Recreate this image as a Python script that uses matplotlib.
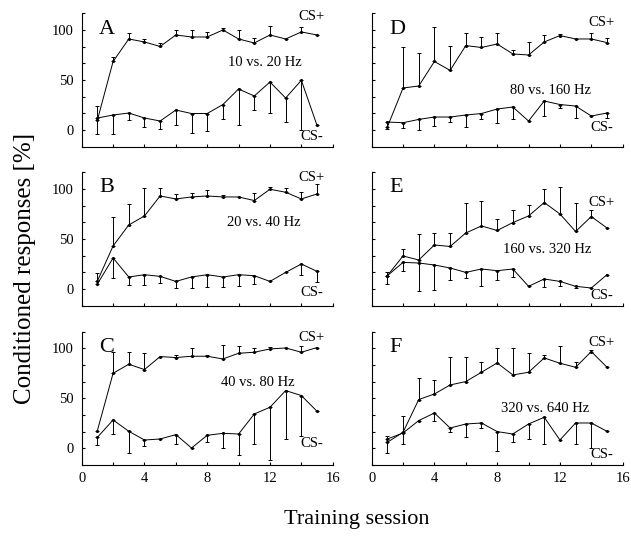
import numpy as np
import matplotlib
matplotlib.use("Agg")
import matplotlib.pyplot as plt

plt.rcParams['font.family'] = ['Liberation Serif', 'DejaVu Serif']

sessions = np.arange(1, 16)
nan = np.nan

# CS+ means and tips of upward error bars, CS- means and tips of downward error bars
A_plus = [10, 68.5, 91, 88, 83.5, 95, 93, 93, 100, 91, 87, 95, 91, 98, 95]
A_plus_top = [24, 73, 97, 91, 87, 100, 100, 98, 101.7, 100, 92, 104, nan, 103, nan]
A_minus = [12, 15, 17, 12, 9, 20, 16.5, 16.5, 25.5, 41, 34, 48, 32, 49.7, 4.6]
A_minus_bot = [-4, -4, 10.5, 3, 0.7, 4.6, -2.6, -1, 10.6, 4.6, 20, 17, 8, 0, nan]

B_plus = [8, 43, 64, 73, 93, 90, 92, 93, 92, 92, 88.4, 99.7, 96.7, 90, 95]
B_plus_top = [16, 72, 85, 100.7, 100.7, 95, 95.7, 99, 94, nan, 96.3, 101.7, 100.7, 97, 104.7]
B_minus = [5, 31, 12, 14.3, 12.6, 7.6, 12, 14.3, 12, 14.3, 13.3, 7.6, 16.6, 25, 17.6]
B_minus_bot = [nan, 11, 4.3, 4.3, 6, 1, 1, 2, 2, 2.7, 5.3, nan, nan, 14.3, 6.6]

C_plus = [17.7, 75, 84, 78.7, 91.7, 90.7, 92, 92, 89.3, 95, 96, 99.3, 100.3, 96, 100.7]
C_plus_top = [nan, 96, 96.7, 95.3, nan, 93.7, 100, 93.3, 103.3, 102, 100, 101, nan, 102.7, nan]
C_minus = [11, 28.3, 17, 8.3, 9.3, 13.7, 0.3, 13, 15, 14.3, 34.3, 41, 57.7, 52.7, 37]
C_minus_bot = [3.3, 14.3, -4.7, 2.7, nan, 4.3, nan, 6, 0.3, -6.3, 4.3, -11.3, 9.3, 12.7, nan]

D_plus = [3, 42, 44, 68.5, 59.6, 84.4, 82.5, 86, 76, 75, 88, 94.4, 91, 91, 87.4]
D_plus_top = [nan, 83, 77, 103, 84, 96.7, 92.7, 97, 79.5, 88, 95, 96, nan, 97, 91.7]
D_minus = [8, 7.3, 10.6, 13, 13, 15, 16.5, 21, 23, 9, 29, 25.5, 24, 14, 17]
D_minus_bot = [1.3, 2.3, 0, 4, 8, 3.3, 11, 7.3, 10.6, nan, 14, 22, 12, nan, 12]

E_plus = [13.3, 33, 29, 44, 42.5, 56, 63, 58.5, 66.4, 73, 86.4, 75, 57.5, 72.4, 61]
E_plus_top = [16.6, 40, 55, 56, 56, 86, 88, 70, 79, 84, 99.7, 102, 86, 79, nan]
E_minus = [13.3, 26.6, 26, 24, 21, 16.6, 20, 18.3, 20, 2.7, 10, 7.6, 2.7, 1, 14.3]
E_minus_bot = [5.3, 17.6, -2.3, -1.3, 9.3, 11, 2.7, 9.3, 12, nan, 2, 2.7, 1, nan, nan]

F_plus = [6, 16, 48.7, 54.3, 63.3, 66.7, 76, 85.3, 73.3, 76, 90.3, 85, 81, 96.7, 81]
F_plus_top = [12.7, 32.7, 70, 68.7, 91, 91, 86.7, 100, 100, 95.3, 93.3, 102.7, 86, 98.7, nan]
F_minus = [9.3, 15.3, 27.7, 35.3, 20.3, 24.3, 25.3, 16.7, 14.3, 24.3, 31, 8.3, 25.3, 25.3, 17]
F_minus_bot = [-4.7, 4.3, nan, 27.7, 16, 11, 20.3, -2.3, 6.7, 9.3, 4.3, nan, 4.3, 0, nan]

panels = [
    ("A", "10 vs. 20 Hz", A_plus, A_plus_top, A_minus, A_minus_bot),
    ("B", "20 vs. 40 Hz", B_plus, B_plus_top, B_minus, B_minus_bot),
    ("C", "40 vs. 80 Hz", C_plus, C_plus_top, C_minus, C_minus_bot),
    ("D", "80 vs. 160 Hz", D_plus, D_plus_top, D_minus, D_minus_bot),
    ("E", "160 vs. 320 Hz", E_plus, E_plus_top, E_minus, E_minus_bot),
    ("F", "320 vs. 640 Hz", F_plus, F_plus_top, F_minus, F_minus_bot),
]

# label positions (data coords): freq text, CS+ y, CS- y
freq_pos = [(11.7, 67), (11.6, 66), (11.2, 66), (11.4, 40), (11.2, 39), (11.05, 40)]
csp_y = [113, 111, 111, 107, 86, 106]
csm_y = [-6, -3.4, 5, 2.7, -6.7, -5.7]

fig = plt.figure(figsize=(6.31, 5.36), dpi=100)

lefts = [0.1295, 0.589]
bottoms = [0.7263, 0.4297, 0.1325]
w, h = 0.3978, 0.2489

for i, (letter, freq, p, ptop, m, mbot) in enumerate(panels):
    col, row = i // 3, i % 3
    ax = fig.add_axes([lefts[col], bottoms[row], w, h])
    p = np.array(p, float)
    m = np.array(m, float)
    up = np.array(ptop, float) - p
    dn = m - np.array(mbot, float)
    ax.errorbar(sessions, p, yerr=[np.zeros(15), up], color='black', lw=0.7,
                elinewidth=0.7, capsize=1.5, capthick=0.7, marker='.', ms=2.5)
    ax.errorbar(sessions, m, yerr=[dn, np.zeros(15)], color='black', lw=0.7,
                elinewidth=0.7, capsize=1.5, capthick=0.7, marker='.', ms=2.5)

    ax.set_xlim(0, 16)
    ax.set_ylim(-50 / 3, 350 / 3)
    ax.spines['top'].set_visible(False)
    ax.spines['right'].set_visible(False)
    ax.spines['left'].set_linewidth(0.8)
    ax.spines['bottom'].set_linewidth(0.8)
    ax.set_xticks([0, 4, 8, 12, 16])
    ax.set_xticks([2, 6, 10, 14], minor=True)
    ax.set_yticks([0, 50, 100])
    ax.set_yticks([-50 / 3, 50 / 3, 100 / 3, 200 / 3, 250 / 3, 350 / 3], minor=True)
    ax.tick_params(which='both', direction='in', length=2.5, width=0.8, labelsize=10.5)
    ax.tick_params(axis='y', pad=6)
    ax.tick_params(axis='x', pad=5)
    if col == 1:
        ax.set_yticklabels([])
    if row != 2:
        ax.set_xticklabels([])

    ax.text(1.1, 100 if row == 0 else 101, letter, fontsize=16, va='center', ha='left')
    ax.text(freq_pos[i][0], freq_pos[i][1], freq, fontsize=10.5, ha='center', va='center')
    ax.text(14.65, csp_y[i], "CS+", fontsize=10.5, ha='center', va='center')
    ax.text(14.65, csm_y[i], "CS-", fontsize=10.5, ha='center', va='center')

fig.text(0.565, 0.03, "Training session", fontsize=16, ha='center', va='center')
fig.text(0.04, 0.5, "Conditioned responses [%]", fontsize=18, ha='center',
         va='center', rotation=90)

fig.savefig("out.png", dpi=100)
